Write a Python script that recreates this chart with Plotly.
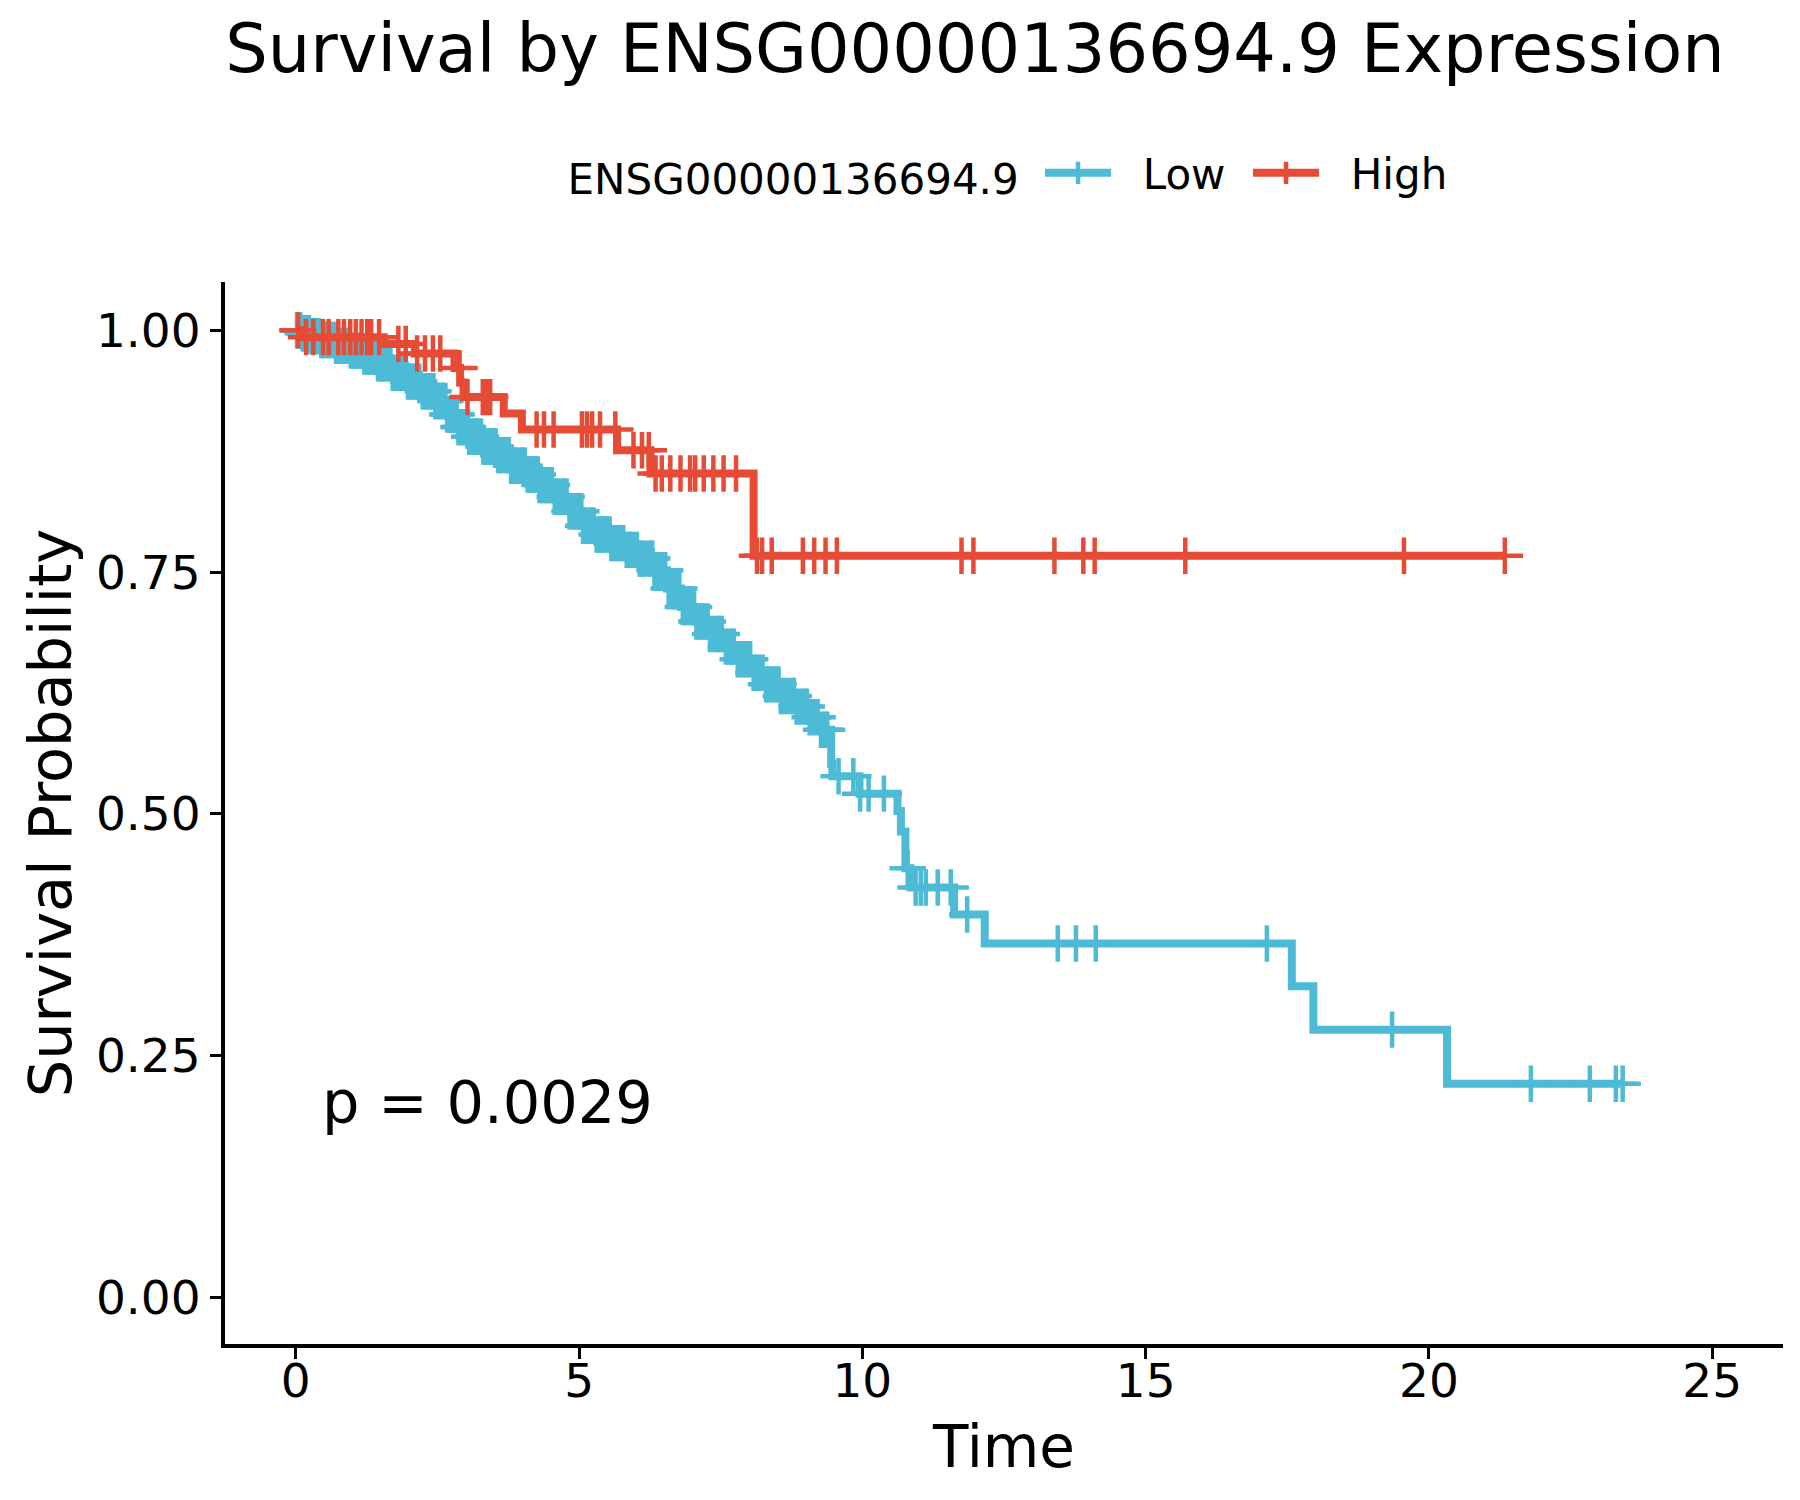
import plotly.graph_objects as go
import numpy as np

# ---- data ----
groups = ["Low", "High"]
colors = {"Low": "#4DBBD5", "High": "#E64B35"}

low_time = [0, 0.10, 0.25, 0.45, 0.70, 0.95, 1.20, 1.45, 1.70, 1.95, 2.20, 2.45, 2.65,
            2.85, 3.05, 3.30, 3.55, 3.80, 4.05, 4.30, 4.55, 4.80, 5.05, 5.30, 5.55, 5.80,
            6.05, 6.30, 6.55, 6.80, 7.05, 7.30, 7.55, 7.80, 8.05, 8.30, 8.55, 8.80, 9.05,
            9.22, 9.45, 9.47, 9.95, 10.62, 10.68, 10.76, 10.85, 11.62, 12.16, 17.58,
            17.96, 20.32, 23.42]
low_surv = [1.0, 0.997, 0.994, 0.990, 0.984, 0.979, 0.973, 0.966, 0.956, 0.947, 0.937,
            0.927, 0.913, 0.900, 0.890, 0.880, 0.871, 0.860, 0.851, 0.840, 0.828, 0.813,
            0.798, 0.789, 0.780, 0.773, 0.764, 0.752, 0.733, 0.714, 0.699, 0.686, 0.673,
            0.660, 0.646, 0.634, 0.622, 0.611, 0.600, 0.587, 0.552, 0.539, 0.521, 0.503,
            0.482, 0.444, 0.424, 0.396, 0.366, 0.322, 0.277, 0.221, 0.221]
low_censor = [0.02, 0.05, 0.08, 0.12, 0.15, 0.19, 0.23, 0.26, 0.30, 0.34, 0.37, 0.41,
              0.45, 0.48, 0.52, 0.56, 0.59, 0.63, 0.68, 0.71, 0.74, 0.79, 0.82, 0.86,
              0.91, 0.93, 0.97, 1.02, 1.05, 1.09, 1.14, 1.17, 1.21, 1.26, 1.29, 1.33,
              1.38, 1.41, 1.45, 1.50, 1.54, 1.57, 1.62, 1.67, 1.71, 1.74, 1.79, 1.85,
              1.88, 1.92, 1.98, 2.01, 2.05, 2.11, 2.15, 2.18, 2.24, 2.27, 2.30, 2.33,
              2.37, 2.40, 2.43, 2.46, 2.49, 2.52, 2.55, 2.58, 2.61, 2.64, 2.67, 2.71,
              2.74, 2.77, 2.80, 2.84, 2.87, 2.89, 2.93, 2.96, 2.99, 3.01, 3.04, 3.06,
              3.10, 3.13, 3.16, 3.18, 3.21, 3.23, 3.27, 3.31, 3.34, 3.36, 3.40, 3.44,
              3.47, 3.49, 3.53, 3.57, 3.60, 3.62, 3.66, 3.71, 3.74, 3.76, 3.80, 3.85,
              3.88, 3.90, 3.95, 3.99, 4.02, 4.04, 4.09, 4.13, 4.16, 4.18, 4.23, 4.27,
              4.30, 4.33, 4.37, 4.42, 4.45, 4.48, 4.52, 4.57, 4.60, 4.63, 4.68, 4.72,
              4.75, 4.78, 4.83, 4.88, 4.91, 4.94, 4.99, 5.04, 5.07, 5.10, 5.15, 5.20,
              5.23, 5.26, 5.31, 5.37, 5.40, 5.43, 5.49, 5.54, 5.57, 5.60, 5.66, 5.71,
              5.74, 5.78, 5.84, 5.89, 5.92, 5.96, 6.02, 6.07, 6.10, 6.14, 6.20, 6.26,
              6.29, 6.33, 6.39, 6.45, 6.48, 6.52, 6.58, 6.64, 6.67, 6.71, 6.77, 6.83,
              6.87, 6.91, 6.97, 7.03, 7.07, 7.11, 7.17, 7.23, 7.27, 7.31, 7.38, 7.44,
              7.48, 7.52, 7.59, 7.65, 7.69, 7.73, 7.80, 7.86, 7.90, 7.95, 8.02, 8.08,
              8.12, 8.17, 8.24, 8.30, 8.34, 8.39, 8.46, 8.52, 8.56, 8.61, 8.68, 8.75,
              8.79, 8.84, 8.91, 8.98, 9.02, 9.07, 9.14, 9.21, 9.27, 9.33, 9.38, 9.58,
              9.84, 9.96, 10.11, 10.38, 10.80, 10.94, 11.03, 11.12, 11.33, 11.56, 11.85,
              13.45, 13.77, 14.12, 17.14, 19.35, 21.80, 22.84, 23.30, 23.42]

high_time = [0, 0.10, 1.55, 2.10, 2.80, 2.90, 2.96, 3.67, 3.99, 5.67, 6.26, 8.08, 21.34]
high_surv = [1.0, 0.993, 0.986, 0.976, 0.961, 0.946, 0.931, 0.914, 0.8975, 0.876, 0.852,
             0.767, 0.767]
high_censor = [0.04, 0.18, 0.31, 0.48, 0.58, 0.75, 0.85, 0.96, 1.06, 1.16, 1.26, 1.33,
               1.47, 1.81, 1.94, 2.14, 2.28, 2.42, 2.55, 2.89, 3.03, 3.30, 3.37, 3.43,
               4.25, 4.38, 4.55, 5.05, 5.14, 5.23, 5.37, 5.64, 5.96, 6.11, 6.23, 6.35,
               6.46, 6.61, 6.79, 6.96, 7.05, 7.20, 7.37, 7.55, 7.77, 8.14, 8.23, 8.40,
               8.95, 9.15, 9.35, 9.55, 11.75, 11.96, 13.39, 13.90, 14.10, 15.70, 19.56,
               21.34]

x_ticks = [0, 5, 10, 15, 20, 25]
y_ticks = [0.00, 0.25, 0.50, 0.75, 1.00]
y_ticklabels = ["0.00", "0.25", "0.50", "0.75", "1.00"]
p_label = "p = 0.0029"
gene = "ENSG00000136694.9"

series = {
    "Low": (low_time, low_surv, low_censor),
    "High": (high_time, high_surv, high_censor),
}


def step_lookup(times, survs, t):
    times = np.asarray(times)
    idx = np.searchsorted(times, t, side="right") - 1
    return [survs[i] for i in np.clip(idx, 0, len(survs) - 1)]


FONT = "DejaVu Sans"
LINE_W = 8
MARK_W = 4.5
MARK_SIZE = 26
NBSP = "\u00a0"

fig = go.Figure()

for g in groups:
    t, s, c = series[g]
    col = colors[g]
    fig.add_trace(go.Scatter(x=t, y=s, mode="lines", line=dict(color=col, width=LINE_W, shape="hv"),
                             showlegend=False, legendgroup=g, hoverinfo="skip"))
    fig.add_trace(go.Scatter(x=c, y=step_lookup(t, s, c), mode="markers",
                             marker=dict(symbol="cross-thin", size=MARK_SIZE,
                                         line=dict(color=col, width=MARK_W), color=col),
                             showlegend=False, legendgroup=g))
    fig.add_trace(go.Scatter(x=[None], y=[None], mode="lines+markers", name=NBSP * 2 + g,
                             legendgroup=g,
                             line=dict(color=col, width=LINE_W),
                             marker=dict(symbol="cross-thin", size=MARK_SIZE,
                                         line=dict(color=col, width=MARK_W), color=col)))

fig.add_annotation(x=0.42, y=0.202, xref="x", yref="y", text=p_label, showarrow=False,
                   xanchor="left", yanchor="middle", font=dict(family=FONT, size=59, color="black"))

fig.update_layout(
    width=1800, height=1500,
    margin=dict(l=225, r=17, t=282, b=156),
    paper_bgcolor="white", plot_bgcolor="white",
    title=dict(text=f"Survival by {gene} Expression", x=975 / 1800, xref="container",
               xanchor="center", y=1 - 49 / 1500, yref="container", yanchor="middle",
               font=dict(family=FONT, size=67, color="black")),
    legend=dict(orientation="h", x=0.5045, xanchor="center", y=1.1026, yanchor="middle",
                title=dict(text=gene + " ", side="left",
                           font=dict(family=FONT, size=42, color="black")),
                font=dict(family=FONT, size=42, color="black"),
                itemsizing="trace", itemwidth=66, entrywidth=127, entrywidthmode="pixels",
                bgcolor="rgba(0,0,0,0)"),
    font=dict(family=FONT, color="black"),
)

fig.update_xaxes(range=[-1.25, 26.25], tickvals=x_ticks, ticks="outside", ticklen=11,
                 tickwidth=3, tickcolor="black", showline=True, linecolor="black",
                 linewidth=4, showgrid=False, zeroline=False, ticklabelstandoff=-18,
                 tickfont=dict(family=FONT, size=47, color="black"),
                 title=dict(text="Time", font=dict(family=FONT, size=58, color="black"),
                            standoff=20))
fig.update_yaxes(range=[-0.048, 1.05], tickvals=y_ticks, ticktext=y_ticklabels,
                 ticks="outside", ticklen=11, tickwidth=3, tickcolor="black",
                 showline=True, linecolor="black", linewidth=4, showgrid=False,
                 zeroline=False, tickfont=dict(family=FONT, size=47, color="black"),
                 title=dict(text="Survival Probability",
                            font=dict(family=FONT, size=59, color="black"), standoff=6))

fig.write_html("out.html", config={"displayModeBar": False},
               post_script="document.body.style.margin='0';document.body.style.padding='0';")
